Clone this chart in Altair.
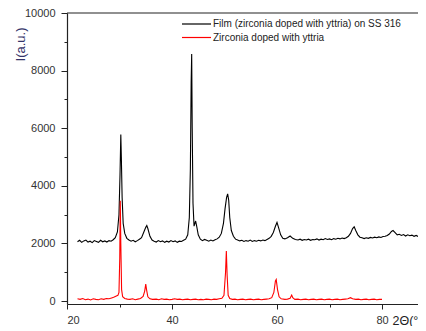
import altair as alt
import pandas as pd

# Film (zirconia doped with yttria) on SS 316 -- 2theta (deg) and intensity (a.u.)
film_2theta = [
    22.0, 22.4, 22.8, 23.2, 23.6, 24.0, 24.4, 24.8, 25.2, 25.6, 26.0, 26.4, 26.8, 27.2, 27.6,
    28.0, 28.4, 28.8, 29.2, 29.6, 29.9, 30.1, 30.25, 30.35, 30.5, 30.7, 31.0, 31.4, 31.8, 32.2,
    32.6, 33.0, 33.4, 33.8, 34.2, 34.6, 35.0, 35.2, 35.4, 35.8, 36.2, 36.6, 37.0, 37.4, 37.8,
    38.2, 38.6, 39.0, 39.4, 39.8, 40.2, 40.6, 41.0, 41.4, 41.8, 42.2, 42.6, 43.0, 43.3, 43.5,
    43.65, 43.75, 43.85, 44.0, 44.2, 44.5, 44.7, 45.0, 45.4, 45.8, 46.2, 46.6, 47.0, 47.4, 47.8,
    48.2, 48.6, 49.0, 49.4, 49.8, 50.1, 50.4, 50.6, 50.8, 51.0, 51.3, 51.7, 52.1, 52.5, 52.9,
    53.3, 53.7, 54.1, 54.5, 54.9, 55.3, 55.7, 56.1, 56.5, 56.9, 57.3, 57.7, 58.1, 58.5, 58.9,
    59.3, 59.7, 60.0, 60.3, 60.7, 61.1, 61.5, 62.0, 62.5, 63.0, 63.5, 64.0, 64.4, 64.8, 65.2,
    65.6, 66.0, 66.4, 66.8, 67.2, 67.6, 68.0, 68.4, 68.8, 69.2, 69.6, 70.0, 70.4, 70.8, 71.2,
    71.6, 72.0, 72.4, 72.8, 73.2, 73.6, 74.0, 74.4, 74.7, 75.0, 75.4, 75.8, 76.2, 76.6, 77.0,
    77.4, 77.8, 78.2, 78.6, 79.0, 79.4, 79.8, 80.2, 80.6, 81.0, 81.4, 81.8, 82.1, 82.5, 82.9,
    83.3, 83.7, 84.1, 84.5, 84.9, 85.3, 85.7, 86.1, 86.5, 86.9, 87.3, 87.7, 88.1, 88.5, 88.9,
    89.3, 89.7,
]
film_intensity = [
    2060, 2110, 2040, 2090, 2120, 2050, 2080, 2030, 2100, 2070, 2040, 2110, 2060, 2090, 2050,
    2100, 2080, 2130, 2200, 2400, 3000, 4400, 5780, 5000, 3600, 2700, 2350, 2180, 2120, 2080,
    2110, 2060, 2100, 2150, 2200, 2380, 2560, 2620, 2520, 2250, 2120, 2080, 2050, 2100, 2060,
    2090, 2040, 2080, 2050, 2100, 2060, 2090, 2040, 2080, 2070, 2110, 2150, 2300, 2900, 4600,
    7600, 8580, 6000, 3400, 2600, 2780, 2600, 2300, 2150, 2100, 2140, 2110, 2080, 2120, 2090,
    2130, 2160, 2220, 2350, 2700, 3200, 3600, 3720, 3500, 2900, 2450, 2250, 2150, 2120, 2090,
    2110, 2070, 2100, 2080, 2120, 2070, 2100, 2080, 2110, 2090, 2120, 2100, 2140, 2180, 2250,
    2380, 2600, 2730, 2550, 2300, 2180, 2160, 2200, 2260, 2180, 2140, 2120, 2150, 2110, 2140,
    2120, 2150, 2110, 2140, 2130, 2160, 2120, 2150, 2130, 2170, 2140, 2160, 2130, 2170, 2150,
    2180, 2160, 2190, 2170, 2200, 2250, 2350, 2520, 2580, 2450, 2300, 2220, 2200, 2170, 2200,
    2180, 2210, 2190, 2220, 2200, 2230, 2210, 2240, 2250, 2280, 2330, 2420, 2450, 2380, 2300,
    2320, 2280, 2310, 2260, 2300, 2270, 2290, 2250, 2280, 2240, 2270, 2250, 2280, 2240, 2270,
    2250, 2260,
]

# Zirconia doped with yttria (powder reference)
ref_2theta = [
    22.0, 22.5, 23.0, 23.5, 24.0, 24.5, 25.0, 25.5, 26.0, 26.5, 27.0, 27.5, 28.0, 28.5, 29.0,
    29.4, 29.7, 29.9, 30.05, 30.15, 30.25, 30.4, 30.6, 31.0, 31.5, 32.0, 32.5, 33.0, 33.5, 34.0,
    34.5, 34.8, 35.0, 35.15, 35.4, 35.8, 36.3, 37.0, 37.5, 38.0, 38.5, 39.0, 39.5, 40.0, 40.5,
    41.0, 41.5, 42.0, 42.5, 43.0, 43.5, 44.0, 44.5, 45.0, 45.5, 46.0, 46.5, 47.0, 47.5, 48.0,
    48.5, 49.0, 49.5, 49.9, 50.2, 50.35, 50.5, 50.7, 51.0, 51.5, 52.0, 52.5, 53.0, 53.5, 54.0,
    54.5, 55.0, 55.5, 56.0, 56.5, 57.0, 57.5, 58.0, 58.5, 59.0, 59.4, 59.7, 59.85, 60.1, 60.4,
    60.8, 61.5, 62.0, 62.5, 62.8, 63.0, 63.4, 64.0, 64.5, 65.0, 65.5, 66.0, 66.5, 67.0, 67.5,
    68.0, 68.5, 69.0, 69.5, 70.0, 70.5, 71.0, 71.5, 72.0, 72.5, 73.0, 73.5, 74.0, 74.4, 75.0,
    75.5, 76.0, 76.5, 77.0, 77.5, 78.0, 78.5, 79.0, 79.5, 80.0,
]
ref_intensity = [
    80, 60, 90, 50, 70, 40, 80, 60, 50, 80, 60, 90, 80, 110, 140,
    180, 200, 300, 1500, 3480, 2000, 400, 150, 90, 70, 60, 80, 50, 70, 90,
    160, 350, 590, 400, 150, 80, 60, 70, 50, 80, 60, 70, 50, 60, 80,
    60, 70, 50, 60, 70, 50, 60, 70, 50, 60, 50, 70, 60, 50, 70,
    60, 80, 100, 200, 1000, 1740, 900, 200, 90, 60, 70, 50, 60, 70, 50,
    60, 70, 50, 60, 70, 50, 60, 70, 80, 120, 300, 700, 750, 400, 150,
    80, 60, 70, 100, 210, 120, 60, 70, 50, 60, 70, 50, 60, 70, 50,
    60, 70, 50, 60, 70, 50, 60, 70, 50, 60, 70, 80, 120, 80, 60,
    70, 50, 60, 70, 50, 60, 70, 50, 60, 60,
]

series_names = ["Film (zirconia doped with yttria) on SS 316", "Zirconia doped with yttria"]
series_colors = ["#000000", "#ff0000"]

x_ticks = [20, 30, 40, 50, 60, 70, 80]
y_ticks = [0, 1000, 2000, 3000, 4000, 5000, 6000, 7000, 8000, 9000, 10000]

df = pd.concat([
    pd.DataFrame({"x": film_2theta, "y": film_intensity, "s": series_names[0],
                  "o": list(range(len(film_2theta)))}),
    pd.DataFrame({"x": ref_2theta, "y": ref_intensity, "s": series_names[1],
                  "o": list(range(len(ref_2theta)))}),
])

PX_PER_DEG = 5.25
W, H = 351, 291
X_MAX = 20 + W / PX_PER_DEG
FONT = "Liberation Sans"

lines = alt.Chart(df).mark_line(clip=True, strokeWidth=1.1).encode(
    x=alt.X("x:Q",
            scale=alt.Scale(domain=[20, X_MAX], nice=False, zero=False),
            axis=alt.Axis(values=x_ticks, title="2Θ(°)", grid=False,
                          labelExpr="datum.value % 20 === 0 ? datum.label : ''",
                          tickSize={"condition": {"test": "datum.value % 20 === 0", "value": 5}, "value": 3},
                          labelPadding=5, labelFontSize=11, labelFont=FONT, labelColor="#333",
                          titleFont=FONT, titleFontSize=12.5, titleFontWeight="normal", titleColor="#222",
                          titleAnchor="start", titleAlign="left", titleBaseline="middle",
                          titleX=325, titleY=16,
                          domainColor="#222", domainWidth=1.2, tickColor="#222")),
    y=alt.Y("y:Q",
            scale=alt.Scale(domain=[-100, 10000], nice=False, zero=False),
            axis=alt.Axis(values=y_ticks, title="I(a.u.)", grid=False, format="d",
                          labelExpr="datum.value % 2000 === 0 ? datum.label : ''",
                          tickSize={"condition": {"test": "datum.value % 2000 === 0", "value": 6}, "value": 3},
                          labelPadding=6, labelFontSize=11, labelFont=FONT, labelColor="#333",
                          titleFont=FONT, titleFontSize=13, titleFontWeight="normal", titleColor="#34346a",
                          titleAngle=270, titleAlign="center", titleBaseline="middle",
                          titleX=-47, titleY=31,
                          domainColor="#222", domainWidth=1.2, tickColor="#222")),
    color=alt.Color("s:N",
                    scale=alt.Scale(domain=series_names, range=series_colors),
                    legend=None),
    order="o:Q",
)

one = pd.DataFrame({"a": [0]})
top_line = alt.Chart(one).mark_rule(color="#222", strokeWidth=1.2).encode(
    x=alt.value(0), x2=alt.value(W), y=alt.value(0)
)

# manual legend (line sample + label for each series)
legend_layers = []
for i, (name, col) in enumerate(zip(series_names, series_colors)):
    ly = 11 + 13.5 * i
    legend_layers.append(
        alt.Chart(one).mark_rule(color=col, strokeWidth=1.2).encode(
            x=alt.value(115), x2=alt.value(144), y=alt.value(ly))
    )
    legend_layers.append(
        alt.Chart(one).mark_text(align="left", baseline="middle", font=FONT,
                                 fontSize=10, color="#222").encode(
            x=alt.value(146), y=alt.value(ly), text=alt.value(name))
    )

chart = alt.layer(lines, top_line, *legend_layers).properties(
    width=W, height=H,
    autosize=alt.AutoSizeParams(type="none"),
    padding={"left": 59, "top": 5, "right": 0, "bottom": 22},
).configure_view(stroke=None)

chart.save("out.html", embed_options={"renderer": "svg", "actions": False})
